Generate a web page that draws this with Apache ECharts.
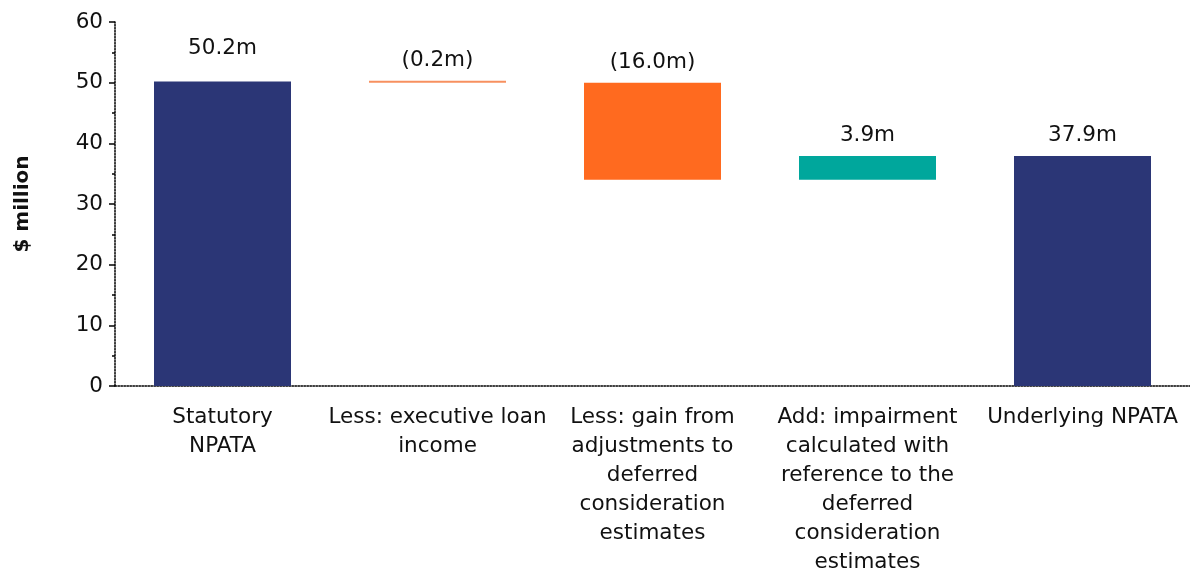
<!DOCTYPE html>
<html>
<head>
<meta charset="utf-8">
<script src="https://cdn.jsdelivr.net/npm/echarts@6/dist/echarts.min.js"></script>
<style>
html,body{margin:0;padding:0;background:#fff;}
#main{width:1190px;height:574px;}
</style>
</head>
<body>
<div id="main"></div>
<script>
// waterfall data, $ million
var categories = ["Statutory\nNPATA", "Less: executive loan\nincome", "Less: gain from\nadjustments to\ndeferred\nconsideration\nestimates", "Add: impairment\ncalculated with\nreference to the\ndeferred\nconsideration\nestimates", "Underlying NPATA"];
var baseValues = [0, 50.0, 34.0, 34.0, 0];
var barValues = [50.2, 0.2, 16.0, 3.9, 37.9];
var barLabels = ["50.2m", "(0.2m)", "(16.0m)", "3.9m", "37.9m"];
var barColors = ["#2B3676", "#F7905F", "#FF6A1F", "#00A79C", "#2B3676"];
var labelGaps = [22, 9, 9, 10, 10];
var yTicks = [0, 10, 20, 30, 40, 50, 60];

var font = "DejaVu Sans";
var fs = 21.5;

function initWaterfall(tagName){
	var dom = document.getElementById(tagName);
	var myChart = echarts.init(dom);
	var visData = [];
	for(var i=0;i<barValues.length;i++){
		visData.push({
			value: barValues[i],
			itemStyle: {color: barColors[i]},
			label: {distance: labelGaps[i]}
		});
	}
	var option = {
		animation: false,
		grid: {left: 115, right: 0, top: 22, bottom: 188, outerBoundsMode: 'none', containLabel: false},
		xAxis: {
			type: 'category',
			data: categories,
			axisLine: {lineStyle: {color: '#000', type: 'dotted', width: 1.5}},
			axisTick: {show: false},
			axisLabel: {
				interval: 0,
				color: '#111',
				fontFamily: font,
				fontSize: fs,
				lineHeight: 29,
				margin: 17,
				verticalAlign: 'top'
			}
		},
		yAxis: {
			type: 'value',
			min: yTicks[0],
			max: yTicks[yTicks.length-1],
			interval: 10,
			name: '$ million',
			nameLocation: 'middle',
			nameGap: 82,
			nameTextStyle: {fontFamily: font, fontSize: 20, fontWeight: 'bold', color: '#111'},
			axisLine: {show: true, lineStyle: {color: '#000', type: 'dotted', width: 1.5}},
			axisTick: {show: true, length: 8, lineStyle: {color: '#000', type: 'dashed', width: 1.5}},
			minorTick: {show: true, splitNumber: 2, length: 3, lineStyle: {color: '#000', width: 1.5}},
			splitLine: {show: false},
			axisLabel: {color: '#111', fontFamily: font, fontSize: fs, margin: 12}
		},
		series: [
			{
				type: 'bar',
				stack: 'wf',
				barWidth: 137,
				itemStyle: {color: 'transparent'},
				emphasis: {disabled: true},
				data: baseValues
			},
			{
				type: 'bar',
				stack: 'wf',
				barWidth: 137,
				barMinHeight: 2,
				label: {
					show: true,
					position: 'top',
					color: '#111',
					fontFamily: font,
					fontSize: fs,
					formatter: function(p){ return barLabels[p.dataIndex]; }
				},
				data: visData
			}
		]
	};
	myChart.setOption(option, true);
}
initWaterfall("main");
</script>
</body>
</html>
